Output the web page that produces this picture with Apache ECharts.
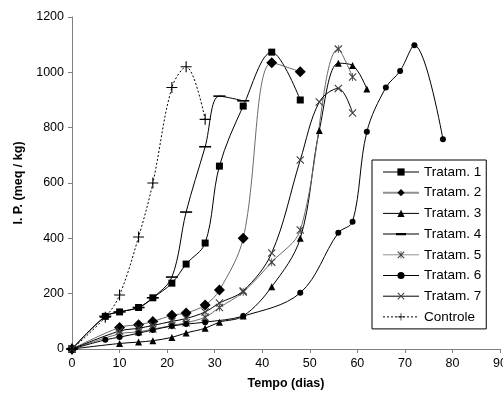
<!DOCTYPE html>
<html>
<head>
<meta charset="utf-8">
<script src="https://cdn.jsdelivr.net/npm/echarts@6/dist/echarts.min.js"></script>
<style>
  html, body { margin: 0; padding: 0; background: #fff; }
  #chart { width: 503px; height: 397px; }
</style>
</head>
<body>
<div id="chart"></div>
<script>
const xTicks = [0, 10, 20, 30, 40, 50, 60, 70, 80, 90]
const yTicks = [0, 200, 400, 600, 800, 1000, 1200]

const t1Days = [0, 7, 10, 14, 17, 21, 24, 28, 31, 36, 42, 48]
const t1Vals = [0, 118, 134, 150, 185, 238, 307, 383, 661, 878, 1073, 900]
const t2Days = [0, 10, 14, 17, 21, 24, 28, 31, 36, 42, 48]
const t2Vals = [0, 78, 88, 99, 122, 130, 159, 213, 400, 1035, 1002]
const t3Days = [0, 10, 14, 17, 21, 24, 28, 31, 36, 42, 48, 52, 56, 59, 62]
const t3Vals = [0, 20, 25, 30, 42, 58, 75, 97, 119, 225, 400, 790, 1033, 1025, 940]
const t4Days = [0, 7, 10, 14, 17, 21, 24, 28, 31, 36]
const t4Vals = [0, 118, 134, 150, 185, 260, 495, 731, 914, 897]
const t5Days = [0, 10, 14, 17, 21, 24, 28, 31, 36, 42, 48, 56, 59]
const t5Vals = [0, 55, 62, 72, 85, 95, 115, 150, 206, 314, 430, 1084, 983]
const t6Days = [0, 7, 10, 14, 17, 21, 24, 28, 36, 48, 56, 59, 62, 66, 69, 72, 78]
const t6Vals = [0, 33, 43, 57, 69, 83, 90, 97, 119, 203, 420, 460, 785, 945, 1005, 1098, 758]
const t7Days = [0, 10, 14, 17, 21, 24, 28, 31, 36, 42, 48, 52, 56, 59]
const t7Vals = [0, 65, 75, 85, 100, 110, 134, 166, 210, 347, 683, 893, 942, 853]
const ctDays = [0, 7, 10, 14, 17, 21, 24, 28]
const ctVals = [0, 115, 195, 405, 600, 945, 1020, 830]

const names = ['Tratam. 1', 'Tratam. 2', 'Tratam. 3', 'Tratam. 4', 'Tratam. 5', 'Tratam. 6', 'Tratam. 7', 'Controle']

// thin stroke-like marker shapes
const plusPath = 'path://M0.45,0 L0.55,0 L0.55,1 L0.45,1 Z M0,0.45 L1,0.45 L1,0.55 L0,0.55 Z'
const crossPath = 'path://M0,0.1 L0.1,0 L1,0.9 L0.9,1 Z M0.9,0 L1,0.1 L0.1,1 L0,0.9 Z'
const starPath = crossPath + ' M0.45,0 L0.55,0 L0.55,1 L0.45,1 Z'
// legend icon for the dash marker: line plus a thick short bar
const dashIcon = 'path://M0,4 L36,4 L36,5 L0,5 Z M13,3.3 L23,3.3 L23,5.7 L13,5.7 Z'

const pairs = (d, v) => d.map((x, i) => [x, v[i]])

const makeSeries = (name, data, symbol, size, lineColor, dashed) => {
  return {
    name: name,
    type: 'line',
    data: data,
    smooth: 0.35,
    symbol: symbol,
    symbolSize: size,
    showAllSymbol: true,
    lineStyle: {
      color: lineColor,
      width: 1,
      type: dashed ? [2, 2] : 'solid',
    },
    itemStyle: {
      color: '#000',
      borderWidth: 0,
    },
    emphasis: { disabled: true },
  }
}

const legendItems = names.map((n) => {
  if (n === 'Tratam. 4') {
    return { name: n, icon: dashIcon }
  }
  if (n === 'Tratam. 2') {
    return { name: n, lineStyle: { width: 2, color: '#909090' } }
  }
  if (n === 'Tratam. 5') {
    return { name: n, lineStyle: { width: 1, color: '#909090' } }
  }
  return n
})

const chart = echarts.init(document.getElementById('chart'))
const option = {
  backgroundColor: '#fff',
  animation: false,
  textStyle: {
    fontFamily: 'Liberation Sans, Arial, sans-serif',
  },
  grid: {
    left: 72,
    right: 3,
    top: 17,
    bottom: 48,
    outerBoundsMode: 'none',
    containLabel: false,
  },
  legend: {
    orient: 'vertical',
    left: 372,
    top: 160,
    padding: [5, 5, 5, 10],
    itemWidth: 36,
    itemHeight: 9,
    itemGap: 6.7,
    borderColor: '#000',
    borderWidth: 1,
    backgroundColor: '#fff',
    lineStyle: { width: 1 },
    textStyle: {
      color: '#000',
      fontSize: 13.5,
      lineHeight: 14,
    },
    data: legendItems,
  },
  xAxis: {
    type: 'value',
    min: xTicks[0],
    max: xTicks[xTicks.length - 1],
    interval: 10,
    name: 'Tempo (dias)',
    nameLocation: 'middle',
    nameGap: 28,
    nameTextStyle: {
      color: '#000',
      fontWeight: 'bold',
      fontSize: 12.5,
    },
    splitLine: { show: false },
    axisLine: { lineStyle: { color: '#808080', width: 1 } },
    axisTick: { length: 4, lineStyle: { color: '#808080' } },
    axisLabel: { color: '#000', fontSize: 12.5, margin: 8, formatter: (v) => String(v) },
  },
  yAxis: {
    type: 'value',
    min: yTicks[0],
    max: yTicks[yTicks.length - 1],
    interval: 200,
    name: 'I. P. (meq / kg)',
    nameLocation: 'middle',
    nameGap: 41,
    nameTextStyle: {
      color: '#000',
      fontWeight: 'bold',
      fontSize: 12.5,
    },
    splitLine: { show: false },
    axisLine: { show: true, lineStyle: { color: '#808080', width: 1 } },
    axisTick: { show: true, length: 4, lineStyle: { color: '#808080' } },
    axisLabel: { color: '#000', fontSize: 12.5, margin: 8, formatter: (v) => String(v) },
  },
  series: [
    makeSeries(names[0], pairs(t1Days, t1Vals), 'rect', 7, '#000', false),
    makeSeries(names[1], pairs(t2Days, t2Vals), 'diamond', 11, '#6a6a6a', false),
    makeSeries(names[2], pairs(t3Days, t3Vals), 'triangle', 7, '#000', false),
    makeSeries(names[3], pairs(t4Days, t4Vals), 'rect', [12, 1.6], '#000', false),
    makeSeries(names[4], pairs(t5Days, t5Vals), starPath, 8, '#6a6a6a', false),
    makeSeries(names[5], pairs(t6Days, t6Vals), 'circle', 6, '#000', false),
    makeSeries(names[6], pairs(t7Days, t7Vals), crossPath, 8, '#000', false),
    makeSeries(names[7], pairs(ctDays, ctVals), plusPath, 11, '#000', true),
  ],
}
option.series[4].itemStyle.color = '#404040'
option.series[6].itemStyle.color = '#404040'
chart.setOption(option)
</script>
</body>
</html>
